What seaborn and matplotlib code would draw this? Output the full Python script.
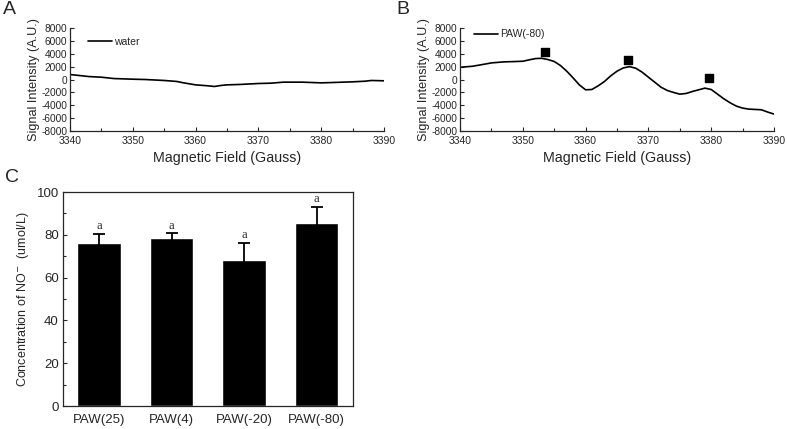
import numpy as np
import pandas as pd
import matplotlib
matplotlib.use("Agg")
import matplotlib.pyplot as plt
from matplotlib.ticker import MultipleLocator
import seaborn as sns

# EPR spectrum of water (panel A)
field_water = [3340, 3343, 3345, 3347, 3350, 3352, 3355, 3357, 3358, 3360, 3362,
               3363, 3364, 3365, 3367, 3370, 3372, 3374, 3377, 3380, 3382, 3385,
               3387, 3388, 3390]
signal_water = [780, 460, 360, 150, 50, 0, -150, -300, -500, -830, -980,
                -1080, -930, -830, -770, -620, -570, -410, -410, -520, -460, -360,
                -260, -150, -200]

# EPR spectrum of PAW(-80) (panel B)
field_paw = list(range(3340, 3391))
signal_paw = [1900, 1980, 2060, 2230, 2400, 2580, 2660, 2740, 2770, 2800, 2840,
              3050, 3250, 3300, 3100, 2800, 2170, 1290, 260, -830, -1600,
              -1550, -980, -310, 570, 1290, 1800, 2000, 1750, 1140, 360,
              -410, -1190, -1700, -2010, -2270, -2170, -1860, -1600, -1340, -1550,
              -2270, -2990, -3610, -4130, -4440, -4600, -4650, -4700, -5060, -5370]
peak_field = [3353.6, 3366.7, 3379.6]
peak_signal = [4230, 3050, 160]

# NO concentration (panel C)
groups = ["PAW(25)", "PAW(4)", "PAW(-20)", "PAW(-80)"]
conc = [76.0, 78.3, 68.0, 85.6]
conc_err = [4.4, 2.4, 8.1, 7.5]
letters = ["a", "a", "a", "a"]

sns.set_style("ticks")
plt.rcParams['font.family'] = ['Liberation Sans', 'DejaVu Sans']
plt.rcParams['xtick.direction'] = 'in'
plt.rcParams['ytick.direction'] = 'in'
plt.rcParams['axes.unicode_minus'] = False

fig = plt.figure(figsize=(7.87, 4.29), dpi=100)

ax_a = fig.add_axes([0.0889, 0.6946, 0.399, 0.2401])
ax_b = fig.add_axes([0.5845, 0.6946, 0.399, 0.2401])
ax_c = fig.add_axes([0.0800, 0.0536, 0.3685, 0.4988])

#spectra
df_w = pd.DataFrame({"field": field_water, "signal": signal_water})
df_p = pd.DataFrame({"field": field_paw, "signal": signal_paw})
sns.lineplot(data=df_w, x="field", y="signal", ax=ax_a, color="black", lw=1.2, label="water")
sns.lineplot(data=df_p, x="field", y="signal", ax=ax_b, color="black", lw=1.2, label="PAW(-80)")
ax_b.scatter(peak_field, peak_signal, marker="s", s=28, color="black", zorder=3)

for ax in [ax_a, ax_b]:
    ax.set_xlim(3340, 3390)
    ax.set_ylim(-8000, 8000)
    ax.xaxis.set_major_locator(MultipleLocator(10))
    ax.xaxis.set_minor_locator(MultipleLocator(5))
    ax.yaxis.set_major_locator(MultipleLocator(2000))
    ax.tick_params(axis='x', which='major', labelsize=7.5, length=3, width=0.8, pad=3.5)
    ax.tick_params(axis='x', which='minor', length=2, width=0.8)
    ax.tick_params(axis='y', labelsize=7.3, length=3, width=0.8, pad=2)
    ax.spines['top'].set_visible(False)
    ax.spines['right'].set_visible(False)
    for s in ['left', 'bottom']:
        ax.spines[s].set_linewidth(0.9)
    ax.set_xlabel("Magnetic Field (Gauss)", fontsize=10.3, labelpad=4)
    ax.set_ylabel("Signal Intensity (A.U.)", fontsize=9.1, labelpad=1)

ax_a.legend(loc="center left", bbox_to_anchor=(0.057, 0.864), frameon=False,
            fontsize=7.5, handlelength=2.3, handletextpad=0.2, borderaxespad=0,
            borderpad=0)
ax_b.legend(loc="center left", bbox_to_anchor=(0.045, 0.94), frameon=False,
            fontsize=7.5, handlelength=2.3, handletextpad=0.2, borderaxespad=0,
            borderpad=0)

#bar chart
df_c = pd.DataFrame({"group": groups, "conc": conc})
sns.barplot(data=df_c, x="group", y="conc", ax=ax_c, color="black", width=0.6,
            errorbar=None, saturation=1)
ax_c.errorbar(range(len(groups)), conc, yerr=conc_err, fmt="none", ecolor="black",
              elinewidth=1.3, capsize=4.5, capthick=1.3)
for i, (c, e, l) in enumerate(zip(conc, conc_err, letters)):
    ax_c.text(i, c + e + 0.8, l, ha="center", va="bottom", fontsize=9,
              family=["Liberation Serif", "DejaVu Serif"])
ax_c.set_xlim(-0.5, 3.5)
ax_c.set_ylim(0, 100)
ax_c.yaxis.set_major_locator(MultipleLocator(20))
ax_c.yaxis.set_minor_locator(MultipleLocator(10))
ax_c.tick_params(axis='y', which='major', labelsize=9.5, length=3, width=0.8, pad=3)
ax_c.tick_params(axis='y', which='minor', length=2, width=0.8)
ax_c.tick_params(axis='x', labelsize=9.5, length=0, pad=6)
for s in ax_c.spines.values():
    s.set_linewidth(0.9)
ax_c.set_xlabel("")
ax_c.set_ylabel("Concentration of NO$^{-}$  (umol/L)", fontsize=9, labelpad=4)

fig.text(0.004, 0.997, "A", fontsize=14, va="top")
fig.text(0.504, 0.997, "B", fontsize=14, va="top")
fig.text(0.006, 0.607, "C", fontsize=14, va="top")

fig.savefig("out.png", dpi=100)
